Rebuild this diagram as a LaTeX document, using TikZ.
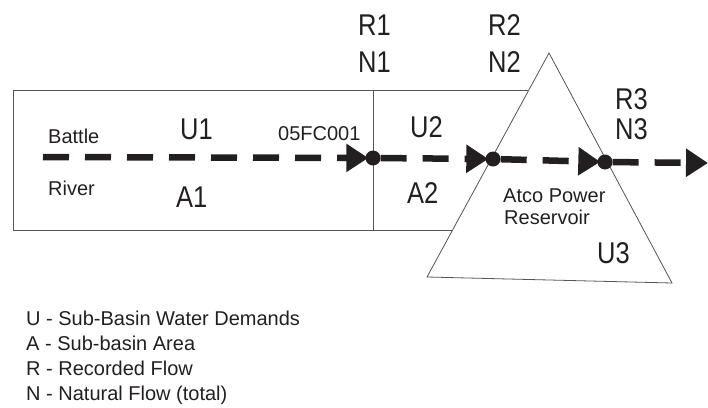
\documentclass[tikz,border=0pt]{standalone}
\usepackage{fontspec}
\setmainfont{Liberation Sans}
\newfontfamily\bigfam[FakeStretch=0.85]{Liberation Sans}
\usetikzlibrary{arrows.meta}
\definecolor{ink}{HTML}{231F20}
\definecolor{edge}{HTML}{555555}
\begin{document}
\begin{tikzpicture}[x=1pt,y=-1pt,
  lbl/.style={anchor=base west,inner sep=0pt,text=ink,font=\fontsize{20}{24}\selectfont},
  biglbl/.style={anchor=base west,inner sep=0pt,text=ink,font=\bigfam\fontsize{30}{34}\selectfont},
  outline/.style={draw=edge,line width=0.8pt},
  flow/.style={draw=ink,line width=6.5pt,dash pattern=on 26pt off 16pt},
  flowtip/.style={flow,-{Triangle[length=22pt,width=27pt]},shorten >=-3pt},
  dot/.style={circle,fill=ink,minimum size=15pt,inner sep=0pt}]
\useasboundingbox (0,0) rectangle (708,407);
% sub-basin boxes
\draw[outline] (13,90) rectangle (373,230);
\draw[outline] (373,90) rectangle (545,230);
% reservoir triangle
\filldraw[outline,fill=white] (549,53) -- (427,277) -- (672,283) -- cycle;
% flow nodes
\node[dot] (n1) at (373,158) {};
\node[dot] (n2) at (493,159) {};
\node[dot] (n3) at (605,162) {};
\coordinate (src) at (43,157);
\coordinate (out) at (708,163);
\draw[flowtip] (src) -- (n1);
\draw[flowtip] (n1) -- (n2);
\draw[flowtip] (n2) -- (n3);
\draw[flow,-{Triangle[length=22pt,width=27pt]}] (n3) -- (out);
% labels
\node[lbl] (battle) at (48,143) {Battle};
\node[lbl] (river) at (48,195) {River};
\node[lbl] (station) at (278,140) {05FC001};
\node[biglbl] (u1) at (180,139) {U1};
\node[biglbl] (a1) at (176,207) {A1};
\node[biglbl] (r1) at (358,35) {R1};
\node[biglbl] (nn1) at (358,72) {N1};
\node[biglbl] (r2) at (488,35) {R2};
\node[biglbl] (nn2) at (488,72) {N2};
\node[biglbl] (u2) at (410,137) {U2};
\node[biglbl] (a2) at (407,203) {A2};
\node[biglbl] (r3) at (615,109) {R3};
\node[biglbl] (nn3) at (615,139) {N3};
\node[biglbl] (u3) at (597,263) {U3};
\node[lbl] (atco) at (503,202) {Atco Power};
\node[lbl] (res) at (504,224) {Reservoir};
% legend
\node[lbl] (lg1) at (26,325) {U - Sub-Basin Water Demands};
\node[lbl] (lg2) at (26,350) {A - Sub-basin Area};
\node[lbl] (lg3) at (26,375) {R - Recorded Flow};
\node[lbl] (lg4) at (26,400) {N - Natural Flow (total)};
\end{tikzpicture}
\end{document}
